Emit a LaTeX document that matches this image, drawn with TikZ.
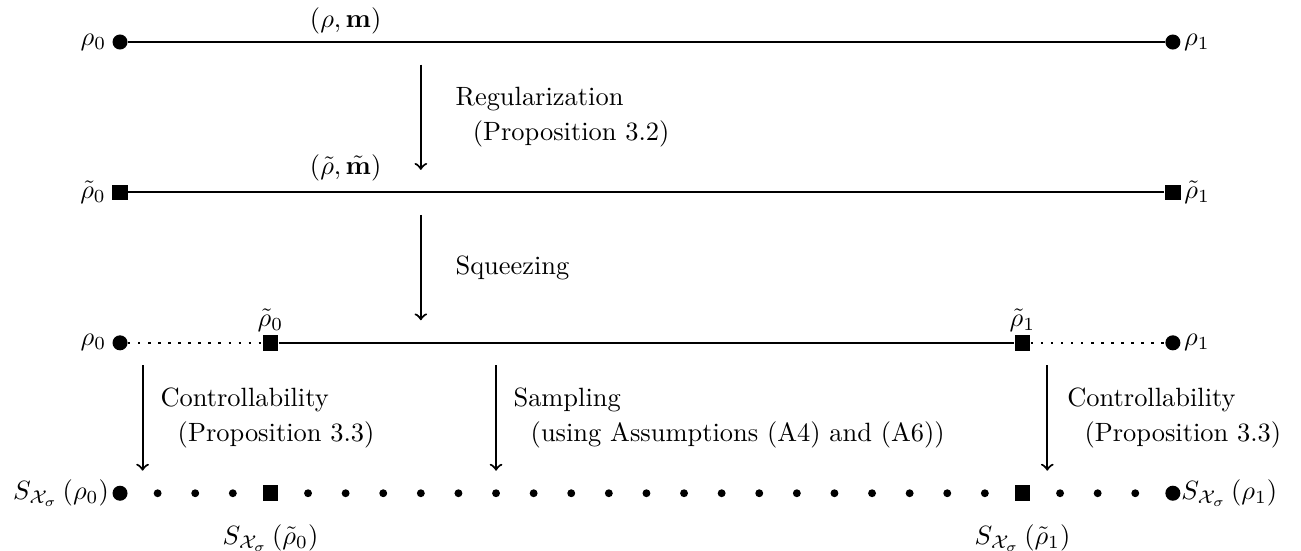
\documentclass[tikz,border=0pt]{standalone}
\usepackage{amsmath}
\begin{document}
\begin{tikzpicture}[
  bigdot/.style={circle,fill,inner sep=0pt,minimum size=0.2cm},
  sqnode/.style={rectangle,fill,inner sep=0pt,minimum size=0.21cm},
  smalldot/.style={circle,fill,inner sep=0pt,minimum size=0.105cm},
  seg/.style={thick},
  dotseg/.style={thick,dash pattern=on 0.9pt off 2.9pt},
  arr/.style={thick,->},
  lbl/.style={inner sep=1pt},
  note/.style={anchor=west,align=left,inner sep=0pt},
]
\useasboundingbox (-1.596,0.5585) rectangle (15.704,-6.7555);

% row 1
\node[bigdot,label={[lbl,label distance=1pt]left:$\rho_0$}] (r0) at (0,0) {};
\node[bigdot,label={[lbl]right:$\rho_1$}] (r1) at (14,0) {};
\draw[seg] (r0) -- (r1);
\node (pm) at (3,0.28) {$(\rho,\mathbf{m})$};

% row 2
\node[sqnode,label={[lbl,label distance=1pt]left:$\tilde\rho_0$}] (t0) at (0,-2) {};
\node[sqnode,label={[lbl]right:$\tilde\rho_1$}] (t1) at (14,-2) {};
\draw[seg] (t0) -- (t1);
\node (tpm) at (3,-1.67) {$(\tilde\rho,\tilde{\mathbf{m}})$};

% row 3
\node[bigdot,label={[lbl,label distance=1pt]left:$\rho_0$}] (q0) at (0,-4) {};
\node[sqnode,label={[lbl]above:$\tilde\rho_0$}] (qt0) at (2,-4) {};
\node[sqnode,label={[lbl]above:$\tilde\rho_1$}] (qt1) at (12,-4) {};
\node[bigdot,label={[lbl]right:$\rho_1$}] (q1) at (14,-4) {};
\draw[dotseg] (q0) -- (qt0);
\draw[seg] (qt0) -- (qt1);
\draw[dotseg] (qt1) -- (q1);

% row 4
\node[bigdot,label={[lbl]left:$S_{\mathcal{X}_\sigma}\left(\rho_0\right)$}] (s0) at (0,-6) {};
\node[sqnode,label={[lbl,label distance=7.5pt]below:$S_{\mathcal{X}_\sigma}\left(\tilde\rho_0\right)$}] (st0) at (2,-6) {};
\node[sqnode,label={[lbl,label distance=7.5pt]below:$S_{\mathcal{X}_\sigma}\left(\tilde\rho_1\right)$}] (st1) at (12,-6) {};
\node[bigdot,label={[lbl,label distance=-1pt]right:$S_{\mathcal{X}_\sigma}\left(\rho_1\right)$}] (s1) at (14,-6) {};
\foreach \i in {1,2,3,5,6,...,23,25,26,27}
  \node[smalldot] (d\i) at (\i*0.5,-6) {};

% arrows
\coordinate (a1s) at (4,-0.3); \coordinate (a1e) at (4,-1.7);
\coordinate (a2s) at (4,-2.3); \coordinate (a2e) at (4,-3.7);
\coordinate (a3s) at (0.3,-4.3); \coordinate (a3e) at (0.3,-5.7);
\coordinate (a4s) at (5,-4.3); \coordinate (a4e) at (5,-5.7);
\coordinate (a5s) at (12.33,-4.3); \coordinate (a5e) at (12.33,-5.7);
\draw[arr] (a1s) -- (a1e);
\draw[arr] (a2s) -- (a2e);
\draw[arr] (a3s) -- (a3e);
\draw[arr] (a4s) -- (a4e);
\draw[arr] (a5s) -- (a5e);

% labels
\node[note] (reg) at (4.455,-1.0) {Regularization\\[1.5pt]\hspace{6.5pt}(Proposition 3.2)};
\node[note] (sqz) at (4.455,-3.0) {Squeezing};
\node[note] (ctl) at (0.532,-5.0) {Controllability\\[1.5pt]\hspace{6.5pt}(Proposition 3.3)};
\node[note] (smp) at (5.226,-5.0) {Sampling\\[1.5pt]\hspace{6.5pt}(using Assumptions (A4) and (A6))};
\node[note] (ctr) at (12.59,-5.0) {Controllability\\[1.5pt]\hspace{6.5pt}(Proposition 3.3)};
\end{tikzpicture}
\end{document}
